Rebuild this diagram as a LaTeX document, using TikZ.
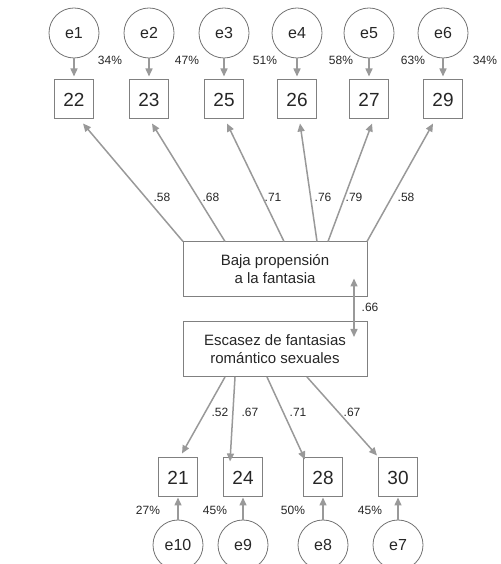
\documentclass[tikz,border=0pt]{standalone}
\usepackage{fontspec}
\setmainfont{Liberation Sans}
\usetikzlibrary{arrows.meta}
\begin{document}
\begin{tikzpicture}[x=1pt,y=1pt,
  every node/.style = {text=black!85},
  factor/.style = {shape=rectangle, draw=black!50, line width=1pt,
    minimum width=184pt, minimum height=55pt, align=center,
    font=\fontsize{15}{18}\selectfont},
  obs/.style = {shape=rectangle, draw=black!50, line width=1pt,
    minimum size=39pt, inner sep=0pt, font=\fontsize{19}{20}\selectfont},
  err/.style = {shape=circle, draw=black!55, line width=0.8pt,
    minimum size=50pt, inner sep=0pt, font=\fontsize{16}{18}\selectfont},
  coef/.style = {inner sep=0pt, font=\fontsize{12}{13}\selectfont},
  pct/.style = {inner sep=0pt, font=\fontsize{12}{13}\selectfont},
  load/.style = {draw=black!40, line width=1.5pt,
    -{Triangle[length=8pt,width=7pt]}}]
  \useasboundingbox (0,0) rectangle (500,564);

  \node[factor] (baja) at (275,294.5) {Baja propensión\\a la fantasia};
  \node[factor] (esca) at (275,215) {Escasez de fantasias\\romántico sexuales};

  % top items
  \foreach \i/\n/\x/\p/\px in {1/22/74/34/110, 2/23/149/47/187,
      3/25/224/51/265, 4/26/297/58/341, 5/27/369/63/413, 6/29/443/34/485} {
    \node[obs] (v\n) at (\x,464.5) {\n};
    \node[err] (e\i) at (\x,531) {e\i};
    \node[pct] (p\i) at (\px,504) {\p\%};
    \draw[load, shorten >=3pt] (e\i) -- (v\n);
  }
  \foreach \n/\sx/\ex/\c/\cx in {22/-92/9/.58/162, 23/-50/3/.68/211,
      25/9/3/.71/273, 26/42/3/.76/323, 27/53/3/.79/354, 29/92/-10/.58/406} {
    \draw[load] ([xshift=\sx pt]baja.north) -- ([xshift=\ex pt,yshift=-4pt]v\n.south);
    \node[coef] (l\n) at (\cx,367) {\c};
  }

  % correlation
  \draw[load, {Triangle[length=8pt,width=7pt]}-{Triangle[length=8pt,width=7pt]}]
    ([xshift=79pt,yshift=19pt]baja.south) -- ([xshift=79pt,yshift=-16pt]esca.north);
  \node[coef] (r) at (370,257) {.66};

  % bottom items
  \foreach \i/\n/\x/\p/\px in {10/21/178/27/148, 9/24/243/45/215,
      8/28/323/50/293, 7/30/398/45/370} {
    \node[obs] (v\n) at (\x,86.5) {\n};
    \node[err] (e\i) at (\x,19) {e\i};
    \node[pct] (p\i) at (\px,54) {\p\%};
    \draw[load] (e\i) -- (v\n);
  }
  \foreach \n/\sx/\ex/\ey/\c/\cx in {21/-50/4/4/.52/220, 24/-40/-13/-4/.67/250,
      28/-8/-18/-2/.71/298, 30/32/-21/2/.67/352} {
    \draw[load] ([xshift=\sx pt]esca.south) -- ([xshift=\ex pt,yshift=\ey pt]v\n.north);
    \node[coef] (l\n) at (\cx,152) {\c};
  }
\end{tikzpicture}
\end{document}
